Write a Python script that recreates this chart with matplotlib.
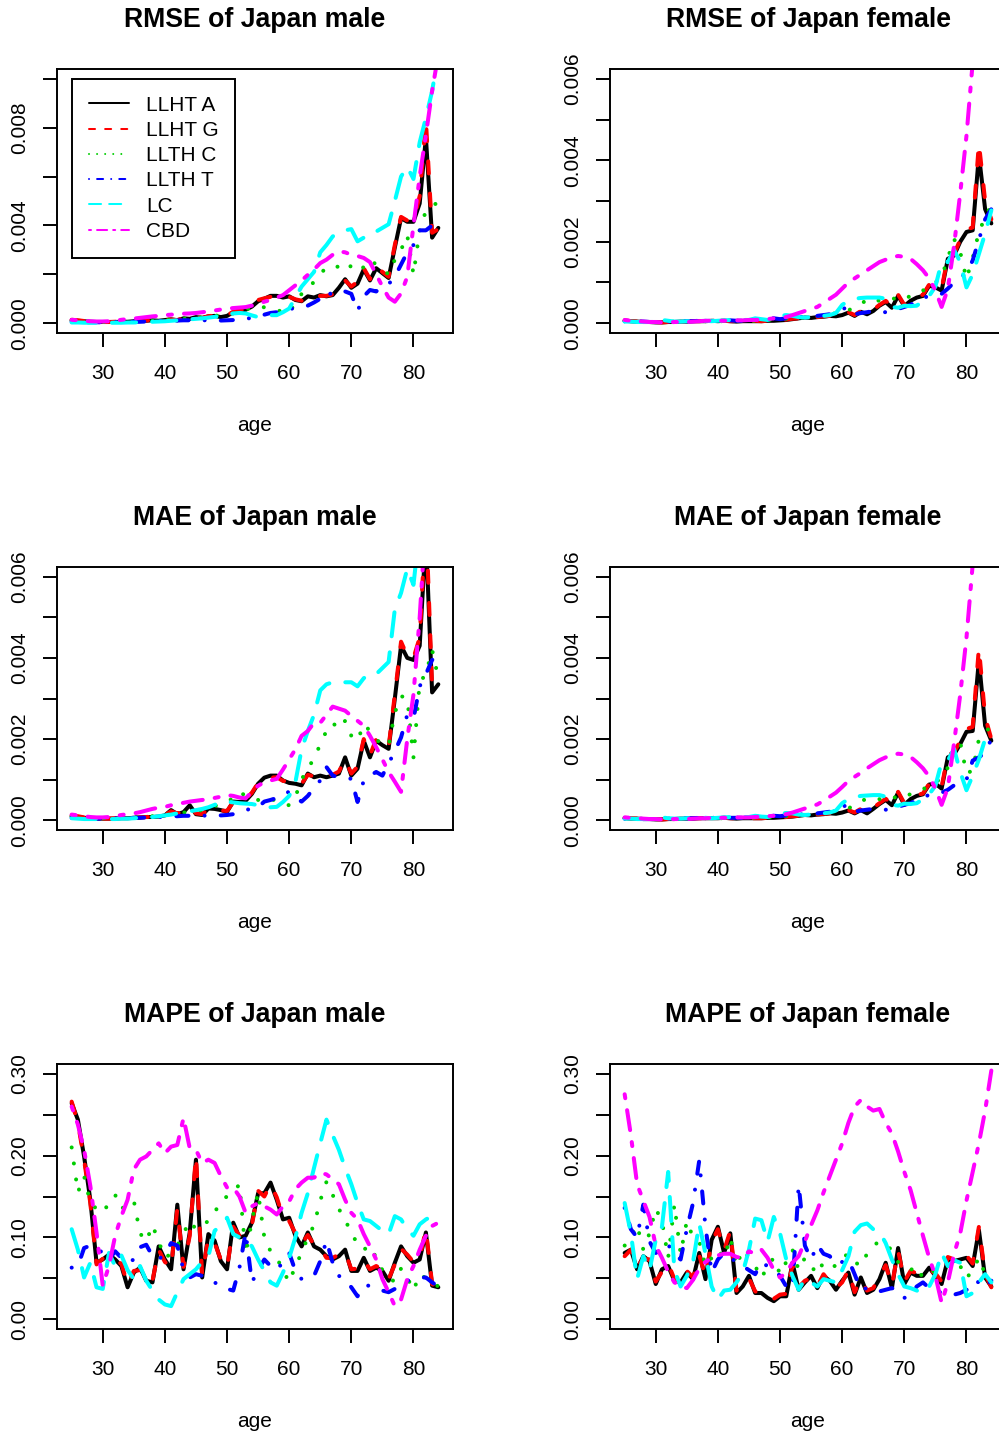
import matplotlib
matplotlib.use('Agg')
import matplotlib.pyplot as plt
from matplotlib.lines import Line2D

plt.rcParams['font.family'] = ['Liberation Sans', 'DejaVu Sans']

ages = list(range(25, 85))
model_labels = ['LLHT A', 'LLHT G', 'LLTH C', 'LLTH T', 'LC', 'CBD']
model_colors = ['#000000', '#FF0000', '#00CD00', '#0000FF', '#00FFFF', '#FF00FF']
# R line types 1..6 (on/off in units of the line width)
model_lty = [None, (4, 4), (1, 3), (1, 3, 4, 3), (7, 3), (2, 2, 6, 2)]
x_ticks = [30, 40, 50, 60, 70, 80]

# ---------------- RMSE, male (values x 1e-3) ----------------
rmse_m_a = [0.12, 0.10, 0.08, 0.06, 0.05, 0.05, 0.05, 0.05, 0.06, 0.06,
            0.08, 0.09, 0.10, 0.12, 0.10, 0.13, 0.16, 0.12, 0.20, 0.18,
            0.25, 0.22, 0.28, 0.30, 0.25, 0.30, 0.45, 0.50, 0.55, 0.68,
            0.90, 1.00, 1.12, 1.12, 1.05, 1.10, 0.95, 0.90, 1.10, 1.05,
            1.15, 1.10, 1.15, 1.45, 1.80, 1.45, 1.62, 2.20, 1.75, 2.25,
            2.05, 1.85, 3.10, 4.30, 4.15, 4.15, 4.90, 7.60, 3.50, 3.90]
rmse_m_g = [0.14, 0.12, 0.09, 0.07, 0.06, 0.05, 0.05, 0.06, 0.06, 0.07,
            0.08, 0.09, 0.11, 0.13, 0.11, 0.14, 0.15, 0.13, 0.21, 0.17,
            0.26, 0.21, 0.29, 0.31, 0.24, 0.32, 0.47, 0.52, 0.58, 0.72,
            0.95, 1.02, 1.08, 1.08, 1.02, 1.08, 0.98, 0.92, 1.12, 1.08,
            1.12, 1.12, 1.18, 1.50, 1.75, 1.50, 1.70, 2.25, 1.80, 2.30,
            2.10, 1.90, 3.20, 4.35, 4.20, 4.20, 5.20, 8.30, 3.70, 3.85]
rmse_m_c = [0.10, 0.08, 0.07, 0.06, 0.05, 0.05, 0.05, 0.05, 0.06, 0.06,
            0.07, 0.08, 0.09, 0.10, 0.12, 0.13, 0.14, 0.16, 0.18, 0.20,
            0.22, 0.24, 0.26, 0.30, 0.33, 0.36, 0.40, 0.45, 0.55, 0.65,
            0.70, 0.65, 0.60, 0.55, 0.45, 0.42, 0.85, 1.20, 1.40, 1.70,
            2.00, 2.30, 2.35, 2.30, 2.50, 2.30, 2.10, 2.30, 2.60, 2.40,
            2.20, 2.00, 2.60, 3.00, 3.60, 2.00, 3.80, 4.60, 4.80, 4.95]
rmse_m_t = [0.06, 0.05, 0.04, 0.04, 0.04, 0.04, 0.04, 0.05, 0.05, 0.05,
            0.06, 0.06, 0.07, 0.08, 0.09, 0.10, 0.10, 0.11, 0.12, 0.12,
            0.13, 0.12, 0.12, 0.12, 0.11, 0.12, 0.13, 0.15, 0.18, 0.22,
            0.26, 0.35, 0.42, 0.45, 0.50, 0.58, 0.62, 0.67, 0.72, 0.85,
            1.00, 1.30, 1.15, 1.18, 1.30, 1.20, 0.50, 1.10, 1.36, 1.30,
            1.50, 1.60, 1.90, 2.40, 2.90, 3.20, 3.80, 3.80, 4.00, 4.10]
rmse_m_lc = [0.03, 0.03, 0.02, 0.02, 0.02, 0.02, 0.02, 0.02, 0.02, 0.03,
             0.03, 0.04, 0.05, 0.06, 0.07, 0.08, 0.10, 0.12, 0.14, 0.16,
             0.18, 0.20, 0.23, 0.26, 0.30, 0.36, 0.40, 0.42, 0.40, 0.32,
             0.25, 0.30, 0.33, 0.33, 0.45, 0.60, 1.05, 1.50, 1.80, 2.10,
             2.90, 3.20, 3.55, 3.70, 3.80, 3.85, 3.35, 3.50, 3.70, 3.75,
             3.90, 4.05, 5.00, 6.00, 6.40, 5.90, 7.40, 8.40, 9.50, 11.0]
rmse_m_cbd = [0.14, 0.12, 0.10, 0.08, 0.07, 0.07, 0.08, 0.10, 0.14, 0.17,
              0.19, 0.22, 0.25, 0.28, 0.30, 0.33, 0.35, 0.37, 0.39, 0.40,
              0.42, 0.45, 0.48, 0.52, 0.56, 0.60, 0.62, 0.64, 0.66, 0.72,
              0.80, 0.88, 0.95, 1.05, 1.15, 1.35, 1.55, 1.75, 1.98, 2.20,
              2.46, 2.60, 2.80, 2.94, 2.90, 2.80, 2.75, 2.67, 2.50, 2.00,
              1.50, 1.05, 0.88, 1.22, 1.90, 4.00, 6.00, 7.70, 9.50, 11.0]

# ---------------- RMSE, female (values x 1e-3) ----------------
rmse_f_a = [0.06, 0.05, 0.04, 0.03, 0.03, 0.02, 0.02, 0.03, 0.03, 0.04,
            0.04, 0.05, 0.05, 0.05, 0.06, 0.05, 0.06, 0.05, 0.04, 0.05,
            0.05, 0.05, 0.05, 0.06, 0.06, 0.07, 0.08, 0.10, 0.12, 0.14,
            0.13, 0.15, 0.16, 0.18, 0.17, 0.20, 0.26, 0.18, 0.28, 0.22,
            0.30, 0.43, 0.52, 0.38, 0.67, 0.42, 0.55, 0.63, 0.67, 0.92,
            0.88, 0.80, 1.58, 1.66, 2.00, 2.24, 2.28, 4.13, 2.80, 2.45]
rmse_f_g = [0.07, 0.05, 0.04, 0.04, 0.03, 0.03, 0.02, 0.03, 0.04, 0.04,
            0.05, 0.05, 0.05, 0.06, 0.06, 0.06, 0.06, 0.05, 0.05, 0.05,
            0.05, 0.06, 0.05, 0.06, 0.07, 0.07, 0.09, 0.11, 0.12, 0.15,
            0.14, 0.15, 0.17, 0.18, 0.18, 0.21, 0.27, 0.20, 0.30, 0.24,
            0.33, 0.45, 0.55, 0.42, 0.70, 0.45, 0.58, 0.65, 0.70, 0.95,
            0.92, 0.85, 1.62, 1.70, 2.05, 2.30, 2.35, 4.42, 3.00, 2.55]
rmse_f_c = [0.05, 0.05, 0.04, 0.04, 0.03, 0.03, 0.03, 0.03, 0.04, 0.04,
            0.04, 0.05, 0.05, 0.05, 0.05, 0.05, 0.05, 0.06, 0.06, 0.06,
            0.06, 0.06, 0.07, 0.08, 0.09, 0.10, 0.11, 0.12, 0.13, 0.14,
            0.15, 0.17, 0.19, 0.21, 0.25, 0.28, 0.32, 0.38, 0.45, 0.60,
            0.58, 0.55, 0.58, 0.63, 0.55, 0.62, 0.66, 0.70, 0.80, 0.95,
            1.00, 1.13, 1.60, 2.07, 1.74, 1.09, 1.60, 2.24, 2.60, 2.90]
rmse_f_t = [0.05, 0.05, 0.04, 0.04, 0.03, 0.03, 0.03, 0.04, 0.05, 0.06,
            0.05, 0.05, 0.06, 0.07, 0.06, 0.06, 0.07, 0.07, 0.06, 0.06,
            0.07, 0.08, 0.12, 0.15, 0.12, 0.10, 0.12, 0.14, 0.15, 0.16,
            0.17, 0.18, 0.20, 0.22, 0.28, 0.35, 0.39, 0.22, 0.25, 0.27,
            0.30, 0.28, 0.27, 0.28, 0.35, 0.40, 0.45, 0.55, 0.62, 0.67,
            0.70, 0.72, 0.85, 1.00, 1.10, 1.25, 1.54, 2.05, 2.55, 2.80]
rmse_f_lc = [0.04, 0.04, 0.03, 0.03, 0.03, 0.04, 0.08, 0.06, 0.04, 0.04,
             0.05, 0.05, 0.06, 0.06, 0.05, 0.06, 0.07, 0.08, 0.07, 0.08,
             0.08, 0.12, 0.10, 0.08, 0.12, 0.18, 0.20, 0.18, 0.15, 0.14,
             0.15, 0.17, 0.18, 0.20, 0.25, 0.45, 0.55, 0.60, 0.62, 0.63,
             0.63, 0.63, 0.60, 0.40, 0.38, 0.43, 0.42, 0.43, 0.55, 0.67,
             0.90, 1.50, 1.50, 1.80, 1.50, 0.88, 1.20, 1.70, 2.20, 2.77]
rmse_f_cbd = [0.08, 0.06, 0.05, 0.04, 0.03, 0.03, 0.02, 0.02, 0.03, 0.03,
              0.03, 0.04, 0.05, 0.06, 0.06, 0.06, 0.06, 0.07, 0.07, 0.07,
              0.08, 0.08, 0.09, 0.10, 0.12, 0.14, 0.15, 0.20, 0.25, 0.30,
              0.35, 0.40, 0.50, 0.60, 0.70, 0.85, 1.00, 1.10, 1.20, 1.30,
              1.40, 1.50, 1.56, 1.62, 1.65, 1.63, 1.58, 1.45, 1.30, 1.10,
              0.80, 0.40, 0.84, 1.90, 3.20, 4.60, 6.40, 8.00, 9.50, 11.0]

# ---------------- MAE, male (values x 1e-3) ----------------
mae_m_a = [0.10, 0.08, 0.06, 0.05, 0.04, 0.04, 0.04, 0.04, 0.05, 0.05,
           0.06, 0.07, 0.08, 0.08, 0.09, 0.12, 0.25, 0.15, 0.20, 0.37,
           0.15, 0.13, 0.29, 0.28, 0.25, 0.21, 0.46, 0.45, 0.48, 0.65,
           0.90, 1.05, 1.10, 1.10, 0.98, 0.92, 0.90, 0.86, 1.15, 1.06,
           1.10, 1.06, 1.10, 1.15, 1.55, 1.10, 1.27, 1.96, 1.55, 1.96,
           1.85, 1.76, 3.00, 4.30, 4.00, 3.95, 4.30, 7.00, 3.15, 3.35]
mae_m_g = [0.12, 0.10, 0.07, 0.06, 0.05, 0.04, 0.04, 0.05, 0.05, 0.06,
           0.06, 0.07, 0.08, 0.09, 0.10, 0.13, 0.22, 0.17, 0.22, 0.35,
           0.17, 0.15, 0.27, 0.30, 0.24, 0.23, 0.45, 0.47, 0.52, 0.68,
           0.92, 1.02, 1.05, 1.06, 0.97, 0.95, 0.92, 0.90, 1.12, 1.08,
           1.08, 1.10, 1.12, 1.20, 1.50, 1.15, 1.32, 2.00, 1.60, 2.00,
           1.90, 1.80, 3.10, 4.40, 4.05, 4.00, 4.50, 7.50, 3.30, 3.30]
mae_m_c = [0.09, 0.08, 0.07, 0.06, 0.05, 0.05, 0.05, 0.05, 0.06, 0.06,
           0.07, 0.08, 0.09, 0.10, 0.12, 0.13, 0.15, 0.17, 0.19, 0.20,
           0.22, 0.25, 0.30, 0.35, 0.40, 0.45, 0.55, 0.70, 0.60, 0.55,
           0.50, 0.54, 0.55, 0.45, 0.40, 0.37, 0.58, 1.00, 1.30, 1.50,
           1.88, 2.20, 2.40, 2.25, 2.45, 2.08, 1.96, 2.37, 2.20, 2.00,
           1.85, 1.84, 2.65, 3.06, 3.00, 1.55, 3.40, 3.60, 4.20, 3.50]
mae_m_t = [0.06, 0.05, 0.05, 0.04, 0.04, 0.04, 0.04, 0.05, 0.05, 0.05,
           0.06, 0.06, 0.07, 0.08, 0.08, 0.09, 0.10, 0.10, 0.11, 0.11,
           0.10, 0.11, 0.12, 0.12, 0.12, 0.13, 0.15, 0.20, 0.25, 0.29,
           0.32, 0.46, 0.50, 0.55, 0.65, 0.70, 0.55, 0.46, 0.60, 0.80,
           0.98, 1.31, 1.10, 1.06, 1.05, 1.02, 0.45, 0.98, 1.10, 1.19,
           1.10, 1.40, 1.70, 2.04, 2.60, 2.50, 3.30, 3.60, 3.95, 4.07]
mae_m_lc = [0.05, 0.04, 0.03, 0.03, 0.03, 0.03, 0.03, 0.03, 0.04, 0.04,
            0.05, 0.06, 0.07, 0.08, 0.10, 0.12, 0.14, 0.17, 0.20, 0.22,
            0.25, 0.28, 0.32, 0.38, 0.45, 0.46, 0.44, 0.42, 0.41, 0.40,
            0.37, 0.33, 0.32, 0.33, 0.45, 0.60, 0.94, 1.75, 2.20, 2.60,
            3.20, 3.35, 3.40, 3.40, 3.40, 3.40, 3.30, 3.50, 3.60, 3.60,
            3.75, 3.90, 5.20, 5.60, 6.20, 5.80, 7.20, 8.50, 10.0, 11.0]
mae_m_cbd = [0.14, 0.12, 0.10, 0.08, 0.07, 0.07, 0.08, 0.10, 0.13, 0.15,
             0.17, 0.20, 0.24, 0.28, 0.31, 0.33, 0.37, 0.40, 0.43, 0.46,
             0.48, 0.50, 0.52, 0.55, 0.58, 0.62, 0.60, 0.56, 0.54, 0.70,
             0.85, 0.94, 0.98, 1.02, 1.25, 1.50, 1.75, 2.08, 2.20, 2.40,
             2.40, 2.60, 2.80, 2.75, 2.70, 2.57, 2.45, 2.33, 2.08, 1.80,
             1.50, 1.19, 0.95, 0.70, 2.00, 3.10, 5.00, 7.50, 9.00, 10.5]

# ---------------- MAE, female (values x 1e-3) ----------------
mae_f_a = [0.05, 0.04, 0.04, 0.03, 0.03, 0.02, 0.02, 0.03, 0.03, 0.04,
           0.04, 0.04, 0.05, 0.05, 0.05, 0.05, 0.06, 0.05, 0.04, 0.05,
           0.05, 0.05, 0.05, 0.06, 0.06, 0.07, 0.08, 0.09, 0.11, 0.13,
           0.12, 0.14, 0.15, 0.17, 0.16, 0.19, 0.24, 0.17, 0.25, 0.17,
           0.28, 0.40, 0.50, 0.37, 0.68, 0.38, 0.52, 0.60, 0.64, 0.88,
           0.90, 0.78, 1.55, 1.62, 1.88, 2.18, 2.20, 3.95, 2.33, 1.96]
mae_f_g = [0.06, 0.05, 0.04, 0.03, 0.03, 0.03, 0.02, 0.03, 0.04, 0.04,
           0.04, 0.05, 0.05, 0.05, 0.06, 0.05, 0.06, 0.05, 0.05, 0.05,
           0.05, 0.05, 0.05, 0.06, 0.07, 0.07, 0.08, 0.10, 0.11, 0.14,
           0.13, 0.14, 0.16, 0.17, 0.17, 0.20, 0.25, 0.19, 0.28, 0.20,
           0.31, 0.42, 0.53, 0.40, 0.70, 0.42, 0.55, 0.62, 0.66, 0.90,
           0.95, 0.82, 1.60, 1.68, 1.95, 2.25, 2.30, 4.25, 2.55, 2.00]
mae_f_c = [0.05, 0.04, 0.04, 0.03, 0.03, 0.03, 0.03, 0.03, 0.03, 0.04,
           0.04, 0.04, 0.05, 0.05, 0.05, 0.05, 0.05, 0.05, 0.06, 0.06,
           0.06, 0.06, 0.07, 0.07, 0.08, 0.09, 0.10, 0.11, 0.12, 0.13,
           0.14, 0.16, 0.18, 0.20, 0.23, 0.27, 0.30, 0.35, 0.45, 0.55,
           0.55, 0.52, 0.55, 0.60, 0.52, 0.60, 0.64, 0.68, 0.75, 0.90,
           0.95, 1.02, 1.30, 1.60, 1.92, 1.15, 1.23, 2.00, 2.20, 2.28]
mae_f_t = [0.04, 0.04, 0.04, 0.03, 0.03, 0.03, 0.03, 0.04, 0.05, 0.05,
           0.05, 0.05, 0.06, 0.06, 0.06, 0.06, 0.07, 0.06, 0.06, 0.06,
           0.07, 0.08, 0.12, 0.14, 0.11, 0.10, 0.12, 0.13, 0.14, 0.15,
           0.16, 0.17, 0.19, 0.21, 0.27, 0.34, 0.37, 0.21, 0.24, 0.26,
           0.28, 0.27, 0.26, 0.27, 0.33, 0.38, 0.42, 0.50, 0.58, 0.62,
           0.65, 0.68, 0.75, 0.86, 0.90, 1.00, 1.47, 1.55, 1.67, 2.00]
mae_f_lc = [0.04, 0.04, 0.03, 0.03, 0.03, 0.04, 0.07, 0.05, 0.04, 0.04,
            0.05, 0.05, 0.06, 0.06, 0.05, 0.06, 0.07, 0.08, 0.07, 0.08,
            0.08, 0.11, 0.09, 0.08, 0.11, 0.16, 0.18, 0.17, 0.14, 0.13,
            0.14, 0.16, 0.17, 0.19, 0.24, 0.42, 0.52, 0.57, 0.60, 0.61,
            0.62, 0.62, 0.58, 0.38, 0.36, 0.41, 0.40, 0.42, 0.52, 0.64,
            0.85, 1.43, 1.47, 1.76, 1.19, 0.74, 1.10, 1.50, 2.00, 2.00]
mae_f_cbd = [0.07, 0.06, 0.05, 0.04, 0.03, 0.03, 0.02, 0.02, 0.03, 0.03,
             0.03, 0.04, 0.05, 0.05, 0.06, 0.06, 0.06, 0.06, 0.07, 0.07,
             0.07, 0.08, 0.09, 0.10, 0.11, 0.13, 0.15, 0.19, 0.24, 0.29,
             0.34, 0.39, 0.48, 0.58, 0.68, 0.82, 0.97, 1.07, 1.17, 1.28,
             1.38, 1.48, 1.55, 1.60, 1.64, 1.62, 1.56, 1.43, 1.28, 1.08,
             0.78, 0.38, 0.80, 1.90, 3.10, 4.50, 6.30, 8.00, 9.50, 11.0]

# ---------------- MAPE, male (values x 1e-2) ----------------
mape_m_a = [26.4, 24.4, 19.9, 14.6, 6.9, 7.3, 7.9, 7.3, 6.5, 3.9,
            5.7, 6.3, 4.7, 4.5, 8.9, 7.3, 6.1, 14.0, 6.1, 10.6,
            19.5, 5.1, 10.4, 9.6, 7.1, 6.1, 11.8, 10.0, 10.2, 11.8,
            15.4, 15.4, 16.7, 14.6, 12.2, 12.4, 10.2, 8.9, 10.6, 8.9,
            8.5, 7.7, 7.3, 7.7, 8.5, 5.9, 5.9, 7.5, 5.9, 6.3,
            5.9, 4.7, 6.9, 8.9, 7.7, 6.9, 7.3, 10.6, 4.1, 3.9]
mape_m_g = [26.6, 24.0, 19.5, 14.2, 6.7, 7.4, 7.7, 7.1, 6.8, 4.2,
            5.9, 6.0, 4.9, 4.7, 8.5, 7.0, 6.3, 13.5, 6.4, 10.2,
            20.0, 5.4, 10.0, 9.3, 7.3, 6.3, 11.3, 10.2, 10.5, 11.5,
            15.7, 15.0, 16.5, 14.9, 12.5, 12.0, 10.5, 9.2, 10.3, 9.1,
            8.7, 7.5, 7.5, 7.9, 8.2, 6.1, 6.2, 7.2, 6.1, 6.5,
            6.1, 4.9, 6.7, 8.6, 7.9, 7.0, 7.5, 11.0, 4.3, 3.8]
mape_m_c = [21.0, 15.5, 17.5, 14.2, 13.5, 13.0, 14.2, 15.2, 13.5, 14.0,
            14.5, 10.5, 9.5, 11.5, 9.5, 7.5, 8.0, 9.0, 10.5, 12.0,
            11.0, 11.5, 12.0, 13.0, 14.5, 15.0, 15.5, 16.5, 8.0, 12.0,
            15.5, 10.0, 8.3, 7.5, 6.0, 4.5, 6.5, 8.1, 10.0, 11.5,
            14.5, 16.8, 15.2, 13.5, 12.0, 10.8, 9.0, 8.5, 9.0, 7.5,
            6.0, 5.0, 4.6, 6.2, 5.1, 3.5, 5.5, 5.0, 4.5, 4.0]
mape_m_t = [6.3, 6.5, 8.7, 9.0, 8.7, 8.1, 7.3, 8.3, 7.5, 6.9,
            7.3, 8.8, 9.1, 7.7, 7.3, 8.0, 9.3, 9.0, 6.0, 5.1,
            5.5, 5.3, 5.1, 4.5, 4.0, 3.7, 3.5, 6.3, 10.6, 4.5,
            6.0, 7.3, 6.5, 6.0, 7.0, 8.1, 5.9, 4.9, 5.0, 5.3,
            7.1, 9.6, 6.9, 5.3, 4.8, 3.9, 2.8, 4.1, 4.1, 3.8,
            3.5, 3.3, 3.7, 4.2, 4.7, 4.9, 5.1, 5.1, 4.5, 4.0]
mape_m_lc = [11.0, 8.5, 5.1, 6.9, 3.9, 3.7, 8.1, 6.5, 7.8, 6.0,
             4.9, 6.5, 4.7, 3.5, 2.4, 1.8, 1.6, 3.3, 4.9, 5.5,
             6.1, 7.0, 7.7, 10.8, 11.5, 12.4, 10.4, 10.0, 9.8, 8.9,
             7.3, 5.9, 4.5, 4.1, 5.7, 7.5, 10.0, 13.0, 15.4, 18.5,
             21.5, 24.4, 22.5, 20.7, 18.5, 16.5, 14.2, 12.2, 12.0, 11.4,
             10.8, 10.4, 12.6, 12.2, 11.0, 10.2, 11.6, 12.2, 12.6, 12.8]
mape_m_cbd = [26.0, 23.8, 20.7, 16.3, 10.6, 4.1, 6.5, 10.2, 12.6, 14.6,
              18.3, 19.5, 19.9, 20.7, 21.5, 20.3, 21.1, 21.3, 24.6, 20.9,
              20.7, 19.1, 19.5, 19.1, 17.5, 16.1, 16.1, 15.0, 13.0, 13.8,
              14.2, 13.8, 13.4, 12.8, 13.8, 14.4, 15.9, 16.7, 17.3, 17.3,
              17.9, 17.7, 17.1, 16.5, 14.6, 13.0, 12.2, 10.4, 8.9, 7.3,
              4.9, 3.3, 1.6, 2.4, 4.9, 6.5, 8.5, 10.2, 11.4, 11.8]

# ---------------- MAPE, female (values x 1e-2) ----------------
mape_f_a = [8.1, 8.5, 6.1, 7.7, 7.1, 4.3, 6.1, 6.5, 4.7, 4.5,
            5.7, 4.9, 8.1, 4.9, 9.7, 11.3, 8.1, 10.5, 3.2, 4.0,
            5.3, 3.2, 3.2, 2.6, 2.2, 2.8, 2.8, 6.9, 3.6, 4.5,
            5.3, 3.8, 5.3, 4.7, 3.6, 4.7, 5.7, 3.0, 5.1, 3.2,
            3.6, 4.9, 6.9, 3.8, 8.7, 4.3, 5.7, 5.3, 5.3, 6.3,
            5.3, 4.3, 7.3, 7.1, 7.3, 7.5, 6.5, 10.9, 5.1, 4.0]
mape_f_g = [7.7, 8.5, 6.4, 7.4, 7.3, 4.6, 5.8, 6.8, 4.9, 4.3,
            5.9, 5.1, 7.8, 5.2, 9.4, 11.0, 8.4, 10.8, 3.5, 4.2,
            5.0, 3.4, 3.0, 2.8, 2.5, 3.0, 3.1, 6.6, 3.9, 4.7,
            5.0, 4.0, 5.5, 4.5, 3.8, 4.5, 6.0, 3.3, 4.9, 3.5,
            3.8, 5.2, 6.6, 4.1, 8.4, 4.6, 5.9, 5.6, 5.5, 6.0,
            5.6, 4.6, 7.6, 7.3, 7.0, 7.8, 6.8, 11.3, 5.5, 3.9]
mape_f_c = [9.0, 10.0, 11.5, 8.5, 10.5, 13.5, 12.0, 7.5, 14.0, 8.0,
            12.0, 10.0, 9.5, 6.5, 7.5, 8.5, 7.5, 10.0, 6.5, 8.5,
            7.5, 6.5, 5.0, 6.5, 7.5, 5.5, 7.0, 8.5, 6.0, 7.5,
            6.5, 5.5, 7.0, 6.5, 6.5, 7.5, 8.0, 7.0, 6.5, 8.0,
            9.0, 9.5, 9.0, 8.5, 7.0, 6.5, 6.0, 6.5, 5.0, 5.5,
            6.0, 6.0, 6.5, 7.0, 6.5, 5.0, 6.0, 7.5, 5.5, 4.5]
mape_f_t = [13.6, 11.0, 10.0, 14.0, 9.5, 8.1, 8.5, 9.1, 8.0, 7.3,
            11.0, 14.2, 19.4, 11.3, 5.7, 7.3, 8.1, 7.5, 7.0, 6.5,
            6.0, 5.5, 6.9, 6.5, 6.0, 5.3, 4.0, 3.8, 16.4, 9.0,
            7.3, 9.1, 8.0, 7.7, 6.7, 7.0, 7.3, 5.5, 3.6, 3.8,
            3.8, 3.4, 3.6, 3.8, 3.5, 2.6, 3.0, 4.0, 4.5, 3.8,
            3.6, 3.2, 3.2, 3.0, 3.2, 3.6, 3.5, 4.7, 4.0, 4.7]
mape_f_lc = [14.2, 10.5, 4.9, 7.7, 6.0, 9.7, 11.3, 18.0, 6.0, 4.0,
             5.3, 7.0, 11.7, 8.0, 4.0, 2.4, 3.5, 3.6, 4.5, 5.7,
             8.5, 12.3, 12.1, 9.5, 12.5, 10.5, 7.3, 5.3, 3.6, 4.9,
             4.5, 4.0, 4.9, 4.7, 4.5, 6.0, 7.7, 10.7, 11.5, 11.7,
             11.0, 10.7, 9.3, 7.3, 5.5, 4.0, 3.8, 3.5, 3.2, 4.0,
             5.5, 8.1, 6.5, 7.2, 6.9, 2.8, 3.2, 4.5, 5.5, 4.5]
mape_f_cbd = [27.5, 22.5, 16.5, 14.5, 12.5, 9.0, 7.5, 5.8, 4.5, 4.0,
              3.8, 4.8, 6.2, 7.0, 7.5, 7.8, 8.0, 8.0, 7.6, 7.5,
              8.3, 8.0, 8.5, 7.5, 6.0, 5.1, 5.7, 6.9, 7.7, 9.5,
              11.5, 13.3, 15.5, 17.5, 19.5, 21.5, 24.0, 26.0, 26.8, 26.0,
              25.5, 25.7, 24.0, 22.7, 20.5, 18.0, 15.8, 13.0, 10.2, 7.5,
              5.3, 2.0, 4.5, 8.0, 10.5, 14.5, 18.0, 21.5, 25.5, 30.4]

panels = [
    dict(title='RMSE of Japan male', col=0, row=0, scale=1e-3,
         series=[rmse_m_a, rmse_m_g, rmse_m_c, rmse_m_t, rmse_m_lc, rmse_m_cbd],
         ylim=(0, 0.010), yticks=[0, 0.002, 0.004, 0.006, 0.008, 0.010],
         ylabels=['0.000', '', '0.004', '', '0.008', ''], legend=True),
    dict(title='RMSE of Japan female', col=1, row=0, scale=1e-3,
         series=[rmse_f_a, rmse_f_g, rmse_f_c, rmse_f_t, rmse_f_lc, rmse_f_cbd],
         ylim=(0, 0.006), yticks=[0, 0.001, 0.002, 0.003, 0.004, 0.005, 0.006],
         ylabels=['0.000', '', '0.002', '', '0.004', '', '0.006'], legend=False),
    dict(title='MAE of Japan male', col=0, row=1, scale=1e-3,
         series=[mae_m_a, mae_m_g, mae_m_c, mae_m_t, mae_m_lc, mae_m_cbd],
         ylim=(0, 0.006), yticks=[0, 0.001, 0.002, 0.003, 0.004, 0.005, 0.006],
         ylabels=['0.000', '', '0.002', '', '0.004', '', '0.006'], legend=False),
    dict(title='MAE of Japan female', col=1, row=1, scale=1e-3,
         series=[mae_f_a, mae_f_g, mae_f_c, mae_f_t, mae_f_lc, mae_f_cbd],
         ylim=(0, 0.006), yticks=[0, 0.001, 0.002, 0.003, 0.004, 0.005, 0.006],
         ylabels=['0.000', '', '0.002', '', '0.004', '', '0.006'], legend=False),
    dict(title='MAPE of Japan male', col=0, row=2, scale=1e-2,
         series=[mape_m_a, mape_m_g, mape_m_c, mape_m_t, mape_m_lc, mape_m_cbd],
         ylim=(0, 0.30), yticks=[0, 0.05, 0.10, 0.15, 0.20, 0.25, 0.30],
         ylabels=['0.00', '', '0.10', '', '0.20', '', '0.30'], legend=False),
    dict(title='MAPE of Japan female', col=1, row=2, scale=1e-2,
         series=[mape_f_a, mape_f_g, mape_f_c, mape_f_t, mape_f_lc, mape_f_cbd],
         ylim=(0, 0.30), yticks=[0, 0.05, 0.10, 0.15, 0.20, 0.25, 0.30],
         ylabels=['0.00', '', '0.10', '', '0.20', '', '0.30'], legend=False),
]

W, H = 999, 1432
fig = plt.figure(figsize=(W / 100, H / 100), dpi=100)

col_left = [57, 610]
row_tb = [(69, 333), (567, 830), (1064, 1329)]
box_w = 396

LW = 2.9      # plot line width (pt)  ~ R lwd = 2
LW_LEG = 1.45  # legend line width (pt) ~ R lwd = 1
FS = 15
TFS = 19.2


def r_pad(lo, hi):
    d = (hi - lo) * 0.04
    return lo - d, hi + d


def r_dashes(pattern):
    # R dash lengths are the visible lengths; matplotlib round caps add one
    # line width to each "on" segment, so compensate.
    out = []
    for i, v in enumerate(pattern):
        if i % 2 == 0:
            out.append(max(v - 1.0, 0.01))
        else:
            out.append(v + 1.0)
    return tuple(out)


def styled_line(line, pattern):
    line.set_solid_capstyle('round')
    line.set_dash_capstyle('round')
    line.set_solid_joinstyle('round')
    line.set_dash_joinstyle('round')
    if pattern is not None:
        line.set_dashes(r_dashes(pattern))


for p in panels:
    left = col_left[p['col']]
    top, bot = row_tb[p['row']]
    ax = fig.add_axes([left / W, 1 - bot / H, box_w / W, (bot - top) / H])
    for vals, col, lty in zip(p['series'], model_colors, model_lty):
        y = [v * p['scale'] for v in vals]
        ln, = ax.plot(ages, y, color=col, lw=LW)
        styled_line(ln, lty)
    ax.set_xlim(*r_pad(min(ages), max(ages)))
    ax.set_ylim(*r_pad(*p['ylim']))
    ax.set_xticks(x_ticks)
    ax.set_xticklabels([str(t) for t in x_ticks])
    ax.set_yticks(p['yticks'])
    ax.set_yticklabels(p['ylabels'])
    for s in ax.spines.values():
        s.set_linewidth(1.4)
    ax.tick_params(axis='both', direction='out', length=10, width=1.4,
                   labelsize=FS, color='black')
    ax.tick_params(axis='x', pad=12)
    ax.tick_params(axis='y', pad=10)
    for lab in ax.get_yticklabels():
        lab.set_rotation(90)
        lab.set_va('center')
        lab.set_ha('right')
    ax.set_xlabel('age', fontsize=FS, labelpad=24)
    ax.set_title(p['title'], fontsize=TFS, fontweight='bold', pad=30)
    if p['legend']:
        handles = []
        for col, lty in zip(model_colors, model_lty):
            h = Line2D([], [], color=col, lw=LW_LEG)
            styled_line(h, lty)
            handles.append(h)
        leg = ax.legend(handles, model_labels, loc='upper left',
                        bbox_to_anchor=((72 - left) / box_w, (bot - 79) / (bot - top)),
                        borderaxespad=0, fontsize=FS, frameon=True,
                        fancybox=False, edgecolor='black', framealpha=1,
                        handlelength=1.95, handletextpad=0.8,
                        labelspacing=0.3, borderpad=0.8)
        leg.get_frame().set_linewidth(1.4)

fig.savefig('out.png', dpi=100)
